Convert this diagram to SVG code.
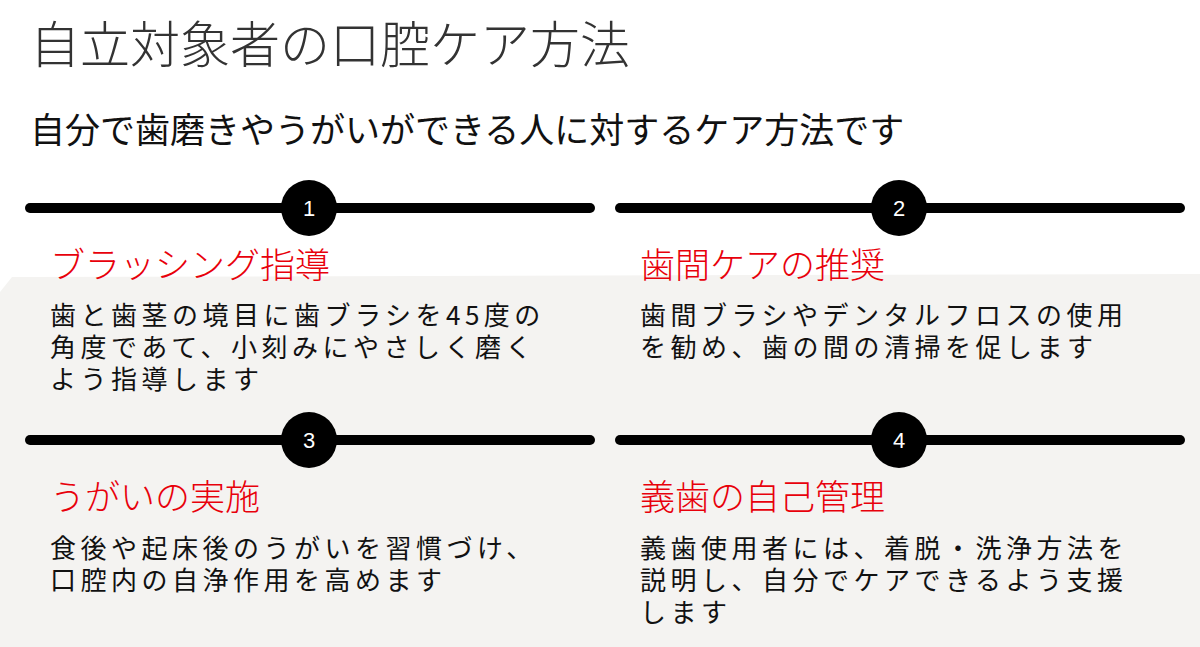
<svg xmlns="http://www.w3.org/2000/svg" width="1200" height="647" viewBox="0 0 1200 647">
<style>
text{font-family:"Noto Sans CJK JP","Noto Sans",sans-serif}
.t{font-size:50px;font-weight:300;fill:#333}
.s{font-size:35px;fill:#111}
.h{font-size:35px;fill:#e8000b;font-weight:300}
.b{font-size:26px;fill:#111;letter-spacing:4.5px}
.n{font-family:"Liberation Sans",Arial,sans-serif;font-size:22px;fill:#fff;text-anchor:middle}
.ln{stroke:#000;stroke-width:10;stroke-linecap:round}
</style>
<rect width="1200" height="647" fill="#fff"/>
<polygon points="12,277 1200,274 1200,647 0,647 0,292" fill="#f4f3f1"/>
<text class="t" x="30" y="63">自立対象者の口腔ケア方法</text>
<text class="s" x="30" y="143">自分で歯磨きやうがいができる人に対するケア方法です</text>
<g id="connectors">
<line class="ln" x1="30" y1="208" x2="590" y2="208"/>
<line class="ln" x1="620" y1="208" x2="1180" y2="208"/>
<line class="ln" x1="30" y1="440" x2="590" y2="440"/>
<line class="ln" x1="620" y1="440" x2="1180" y2="440"/>
</g>
<g id="n1"><circle cx="309" cy="208" r="28"/><text class="n" x="309" y="216">1</text>
<text class="h" x="50" y="278">ブラッシング指導</text>
<text class="b" x="50" y="325">歯と歯茎の境目に歯ブラシを45度の</text>
<text class="b" x="50" y="357">角度であて、小刻みにやさしく磨く</text>
<text class="b" x="50" y="389">よう指導します</text></g>
<g id="n2"><circle cx="899" cy="208" r="28"/><text class="n" x="899" y="216">2</text>
<text class="h" x="640" y="278">歯間ケアの推奨</text>
<text class="b" x="640" y="325">歯間ブラシやデンタルフロスの使用</text>
<text class="b" x="640" y="357">を勧め、歯の間の清掃を促します</text></g>
<g id="n3"><circle cx="309" cy="440" r="28"/><text class="n" x="309" y="448">3</text>
<text class="h" x="50" y="510">うがいの実施</text>
<text class="b" x="50" y="558">食後や起床後のうがいを習慣づけ、</text>
<text class="b" x="50" y="590">口腔内の自浄作用を高めます</text></g>
<g id="n4"><circle cx="899" cy="440" r="28"/><text class="n" x="899" y="448">4</text>
<text class="h" x="640" y="510">義歯の自己管理</text>
<text class="b" x="640" y="558">義歯使用者には、着脱・洗浄方法を</text>
<text class="b" x="640" y="590">説明し、自分でケアできるよう支援</text>
<text class="b" x="640" y="622">します</text></g>
</svg>
